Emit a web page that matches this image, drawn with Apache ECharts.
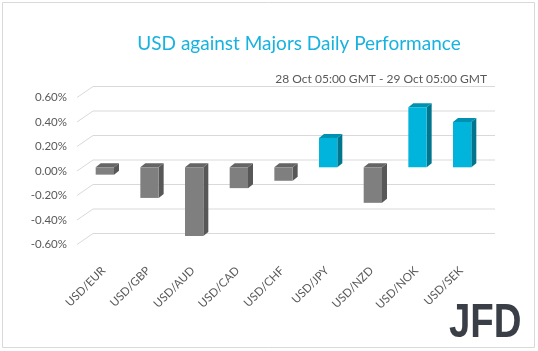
<!DOCTYPE html>
<html>
<head>
<meta charset="utf-8">
<script src="https://cdn.jsdelivr.net/npm/echarts@6/dist/echarts.min.js"></script>
<style>
  html, body { margin: 0; padding: 0; background: #fff; }
  #chart { width: 538px; height: 351px; }
</style>
</head>
<body>
<div id="chart"></div>
<script>
  // data
  const categories = ['USD/EUR', 'USD/GBP', 'USD/AUD', 'USD/CAD', 'USD/CHF', 'USD/JPY', 'USD/NZD', 'USD/NOK', 'USD/SEK']
  const values = [-0.06, -0.25, -0.56, -0.17, -0.11, 0.24, -0.29, 0.49, 0.37]
  const yTicks = [-0.6, -0.4, -0.2, 0, 0.2, 0.4, 0.6]

  const wall = [16, -11]       // back wall offset of the gridlines
  const barOff = [5.5, -3.7]   // bar front face offset from front plane
  const depth = [5, -4]        // bar depth
  const gray = { front: '#7f7f7f', side: '#575757', top: '#656565' }
  const blue = { front: '#00b4dc', side: '#00768e', top: '#0090b0' }

  const chart = echarts.init(document.getElementById('chart'))

  function renderGrid(params, api) {
    const cs = params.coordSys
    const y = api.coord([0, api.value(1)])[1]
    return {
      type: 'polyline',
      shape: { points: [[cs.x, y], [cs.x + wall[0], y + wall[1]], [cs.x + cs.width + wall[0], y + wall[1]]] },
      style: { stroke: '#d9d9d9', lineWidth: 1, fill: null }
    }
  }

  function renderBar(params, api) {
    const i = api.value(0), v = api.value(1)
    const top = api.coord([i, Math.max(v, 0)])
    const bot = api.coord([i, Math.min(v, 0)])
    const w = api.size([1, 0])[0] * 0.41
    const x0 = top[0] - w / 2 + barOff[0], x1 = x0 + w
    const yT = top[1] + barOff[1], yB = bot[1] + barOff[1]
    const c = v >= 0 ? blue : gray
    return {
      type: 'group',
      children: [
        { type: 'polygon', shape: { points: [[x1, yT], [x1 + depth[0], yT + depth[1]], [x1 + depth[0], yB + depth[1]], [x1, yB]] }, style: { fill: c.side } },
        { type: 'polygon', shape: { points: [[x0, yT], [x0 + depth[0], yT + depth[1]], [x1 + depth[0], yT + depth[1]], [x1, yT]] }, style: { fill: c.top } },
        { type: 'rect', shape: { x: x0, y: yT, width: w, height: yB - yT }, style: { fill: c.front } }
      ]
    }
  }

  chart.setOption({
    animation: false,
    textStyle: { fontFamily: 'Lato' },
    title: [{
      text: 'USD against Majors Daily Performance',
      left: 294, top: 29, textAlign: 'center',
      textStyle: { color: '#17b2df', fontSize: 19, fontWeight: 'normal', fontFamily: 'Lato' }
    }, {
      text: '28 Oct 05:00 GMT - 29 Oct 05:00 GMT',
      right: 46, top: 68,
      textStyle: { color: '#595959', fontSize: 12, fontWeight: 'normal', fontFamily: 'Lato' }
    }],
    graphic: [
      { type: 'rect', shape: { x: 2.5, y: 2.5, width: 532, height: 345 }, style: { fill: null, stroke: '#d9d9d9', lineWidth: 1 }, silent: true },
      { type: 'text', left: 449, top: 300, scaleX: 0.8, style: { text: 'JFD', fill: '#3a3f47', font: 'bold 48px "Liberation Sans"' } }
    ],
    grid: { left: 77, right: 59, top: 97.5, bottom: 106.5 },
    xAxis: {
      type: 'category',
      data: categories,
      axisLine: { show: false },
      axisTick: { show: false },
      axisLabel: { rotate: 45, margin: 20, verticalAlign: 'top', color: '#595959', fontSize: 11.5, interval: 0 }
    },
    yAxis: {
      type: 'value',
      min: -0.6, max: 0.6, interval: 0.2,
      splitLine: { show: false },
      axisLine: { show: false },
      axisLabel: { margin: 10, color: '#595959', fontSize: 11.5, formatter: v => v.toFixed(2) + '%' }
    },
    series: [{
      type: 'custom',
      renderItem: renderGrid,
      data: yTicks.map(v => [0, v]),
      z: 1,
      silent: true
    }, {
      type: 'custom',
      renderItem: renderBar,
      data: values.map((v, i) => [i, v]),
      z: 2
    }]
  })
</script>
</body>
</html>
